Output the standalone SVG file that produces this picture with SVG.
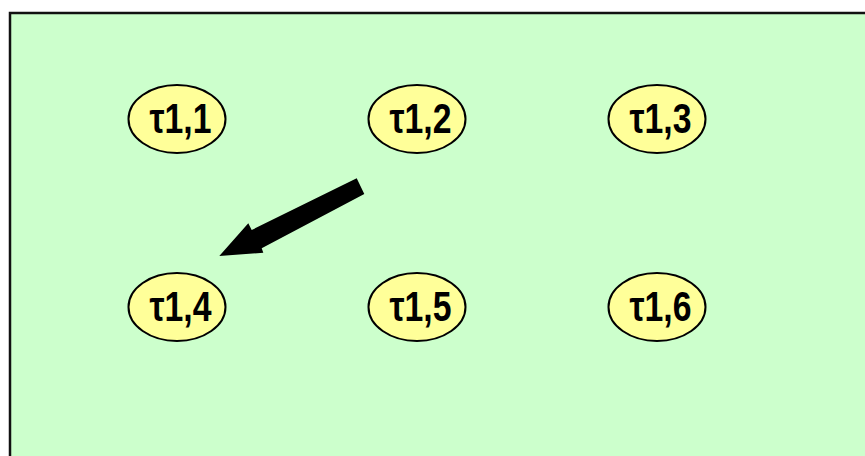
<svg xmlns="http://www.w3.org/2000/svg" width="865" height="456" viewBox="0 0 865 456">
<style>
.node ellipse{fill:#FFFF99;stroke:#000;stroke-width:2}
.node text{font-family:"Liberation Sans",Arial,sans-serif;font-weight:bold;font-size:42px;fill:#000;text-anchor:middle}
</style>
<rect x="10" y="13" width="870" height="460" fill="#CCFFCC" stroke="#111" stroke-width="2.5"/>
<g id="t11" class="node"><ellipse cx="177" cy="119" rx="48.5" ry="34"/><text x="180.5" y="133" textLength="62" lengthAdjust="spacingAndGlyphs">τ1,1</text></g>
<g id="t12" class="node"><ellipse cx="417" cy="119" rx="48.5" ry="34"/><text x="420.5" y="133" textLength="62" lengthAdjust="spacingAndGlyphs">τ1,2</text></g>
<g id="t13" class="node"><ellipse cx="657" cy="119" rx="48.5" ry="34"/><text x="660.5" y="133" textLength="62" lengthAdjust="spacingAndGlyphs">τ1,3</text></g>
<g id="t14" class="node"><ellipse cx="177" cy="307" rx="48.5" ry="34"/><text x="180.5" y="321" textLength="62" lengthAdjust="spacingAndGlyphs">τ1,4</text></g>
<g id="t15" class="node"><ellipse cx="417" cy="307" rx="48.5" ry="34"/><text x="420.5" y="321" textLength="62" lengthAdjust="spacingAndGlyphs">τ1,5</text></g>
<g id="t16" class="node"><ellipse cx="657" cy="307" rx="48.5" ry="34"/><text x="660.5" y="321" textLength="62" lengthAdjust="spacingAndGlyphs">τ1,6</text></g>
<g id="connectors">
<polygon points="356.7,178.3 364.3,194 261.7,248.3 263.3,252.7 219.3,256 248.3,223.3 251.7,230" fill="#000"/>
</g>
</svg>
